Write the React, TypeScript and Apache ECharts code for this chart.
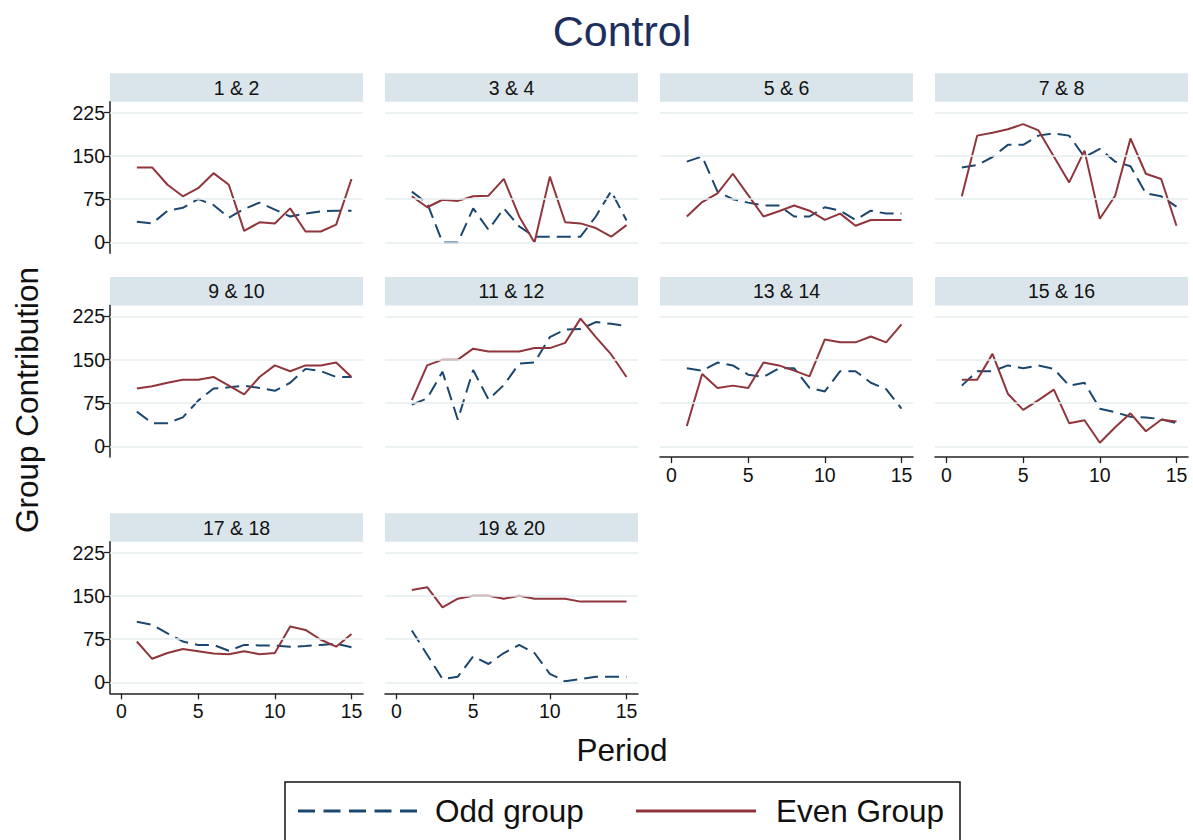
import React, { useEffect, useRef } from 'react';
import * as echarts from 'echarts';

const periods = [1, 2, 3, 4, 5, 6, 7, 8, 9, 10, 11, 12, 13, 14, 15];
const panelTitles = ['1 & 2', '3 & 4', '5 & 6', '7 & 8', '9 & 10', '11 & 12', '13 & 14', '15 & 16', '17 & 18', '19 & 20'];
const yTicks = [0, 75, 150, 225];
const xTicks = [0, 5, 10, 15];

const odd_1_2 = [36, 33, 55, 60, 75, 65, 43, 58, 69, 57, 45, 50, 54, 55, 55];
const even_1_2 = [130, 130, 100, 80, 94, 120, 100, 20, 35, 33, 59, 19, 19, 31, 110];
const odd_3_4 = [88, 68, 0, 0, 59, 22, 59, 28, 10, 10, 10, 10, 45, 89, 38];
const even_3_4 = [80, 61, 74, 72, 80, 81, 110, 45, 0, 114, 35, 33, 25, 10, 30];
const odd_5_6 = [140, 149, 88, 75, 69, 64, 64, 45, 45, 61, 55, 39, 55, 50, 50];
const even_5_6 = [45, 70, 85, 119, 82, 45, 54, 64, 55, 39, 50, 29, 39, 39, 39];
const odd_7_8 = [130, 134, 148, 169, 169, 185, 189, 185, 148, 162, 140, 132, 85, 80, 62];
const even_7_8 = [80, 185, 190, 196, 205, 194, 149, 104, 159, 41, 81, 180, 119, 110, 29];
const odd_9_10 = [60, 40, 40, 50, 79, 100, 102, 105, 101, 96, 110, 134, 130, 120, 120];
const even_9_10 = [100, 104, 110, 115, 115, 120, 105, 90, 120, 140, 130, 140, 140, 145, 120];
const odd_11_12 = [72, 83, 129, 46, 132, 81, 106, 143, 145, 189, 202, 203, 215, 212, 208];
const even_11_12 = [80, 140, 150, 150, 169, 164, 164, 164, 170, 170, 179, 221, 189, 159, 120];
const odd_13_14 = [135, 131, 145, 140, 124, 120, 135, 135, 101, 95, 130, 130, 110, 99, 65];
const even_13_14 = [35, 125, 101, 105, 101, 145, 140, 131, 121, 185, 180, 180, 190, 180, 211];
const odd_15_16 = [105, 130, 130, 140, 135, 140, 134, 105, 110, 65, 59, 51, 50, 47, 40];
const even_15_16 = [115, 115, 160, 91, 63, 80, 98, 40, 45, 6, 33, 57, 26, 46, 43];
const odd_17_18 = [105, 100, 85, 71, 65, 65, 55, 65, 64, 64, 62, 63, 65, 67, 61];
const even_17_18 = [71, 41, 51, 58, 54, 50, 49, 54, 49, 51, 97, 91, 74, 62, 84];
const odd_19_20 = [90, 48, 6, 10, 45, 32, 51, 65, 51, 15, 2, 6, 10, 10, 10];
const even_19_20 = [160, 165, 130, 145, 150, 150, 145, 150, 145, 145, 145, 140, 140, 140, 140];

const oddList = [odd_1_2, odd_3_4, odd_5_6, odd_7_8, odd_9_10, odd_11_12, odd_13_14, odd_15_16, odd_17_18, odd_19_20];
const evenList = [even_1_2, even_3_4, even_5_6, even_7_8, even_9_10, even_11_12, even_13_14, even_15_16, even_17_18, even_19_20];

const FONT = 'Liberation Sans, Arial, Helvetica, sans-serif';
const BLUE = '#1a476f';
const RED = '#90353b';
const GRIDC = '#e6eef1';
const STRIP = '#d9e5eb';

const colLeft = [110, 385, 660, 935];
const rowTop = [101.7, 305.5, 541.7];
const plotW = 253;
const plotH = 151.6;
const stripH = 28.4;

export default function App() {
  const ref = useRef<HTMLDivElement>(null);
  useEffect(() => {
    if (!ref.current) return;
    const chart = echarts.init(ref.current, undefined, { renderer: 'svg' });
    const grids: any[] = [];
    const xAxes: any[] = [];
    const yAxes: any[] = [];
    const series: any[] = [];
    const graphics: any[] = [];
    const center = { align: 'center', verticalAlign: 'middle', textAlign: 'center', textVerticalAlign: 'middle' };
    const leftMid = { align: 'left', verticalAlign: 'middle', textAlign: 'left', textVerticalAlign: 'middle' };
    panelTitles.forEach((title, i) => {
      const row = Math.floor(i / 4);
      const col = i % 4;
      const left = colLeft[col];
      const top = rowTop[row];
      const showY = col === 0;
      const showX = i >= 6;
      grids.push({ left, top, width: plotW, height: plotH, containLabel: false });
      xAxes.push({
        type: 'value', gridIndex: i, min: -0.75, max: 15.75,
        axisLine: { show: showX, onZero: false, lineStyle: { color: '#222', width: 1.5 } },
        axisTick: { show: showX, length: 6, customValues: xTicks, lineStyle: { color: '#222', width: 1.3 } },
        axisLabel: { show: showX, customValues: xTicks, color: '#111', fontSize: 19.5, fontFamily: FONT, margin: 8 },
        splitLine: { show: false },
      });
      yAxes.push({
        type: 'value', gridIndex: i, min: -18.75, max: 243.75,
        axisLine: { show: showY, onZero: false, lineStyle: { color: '#222', width: 1.5 } },
        axisTick: { show: showY, length: 6, customValues: yTicks, lineStyle: { color: '#222', width: 1.3 } },
        axisLabel: { show: showY, customValues: yTicks, color: '#111', fontSize: 19.5, fontFamily: FONT, margin: 5 },
        splitLine: { show: false },
      });
      series.push({
        type: 'line', xAxisIndex: i, yAxisIndex: i, data: [], silent: true,
        markLine: {
          silent: true, symbol: 'none', label: { show: false },
          lineStyle: { color: GRIDC, width: 1.6, type: 'solid' },
          emphasis: { disabled: true },
          data: yTicks.map((v) => ({ yAxis: v })),
        },
      });
      series.push({
        name: 'Odd group', type: 'line', xAxisIndex: i, yAxisIndex: i, showSymbol: false, symbol: 'none',
        data: periods.map((p, k) => [p, oddList[i][k]]),
        lineStyle: { color: BLUE, width: 2, type: [14, 7] }, itemStyle: { color: BLUE },
      });
      series.push({
        name: 'Even Group', type: 'line', xAxisIndex: i, yAxisIndex: i, showSymbol: false, symbol: 'none',
        data: periods.map((p, k) => [p, evenList[i][k]]),
        lineStyle: { color: RED, width: 2, type: 'solid' }, itemStyle: { color: RED },
      });
      graphics.push({
        type: 'rect', shape: { x: left, y: top - stripH, width: plotW, height: stripH },
        style: { fill: STRIP }, silent: true,
      });
      graphics.push({
        type: 'text', x: left + plotW / 2, y: top - stripH / 2,
        style: { text: title, fill: '#111', fontSize: 19.5, fontFamily: FONT, ...center },
        silent: true,
      });
    });
    graphics.push({
      type: 'text', x: 622, y: 31,
      style: { text: 'Control', fill: '#1e2f5e', fontSize: 43, fontFamily: FONT, ...center },
    });
    graphics.push({
      type: 'text', x: 27, y: 400, rotation: Math.PI / 2,
      style: { text: 'Group Contribution', fill: '#111', fontSize: 31.5, fontFamily: FONT, ...center },
    });
    graphics.push({
      type: 'text', x: 622, y: 750,
      style: { text: 'Period', fill: '#111', fontSize: 31.5, fontFamily: FONT, ...center },
    });
    graphics.push({
      type: 'rect', shape: { x: 285, y: 782, width: 675, height: 80 },
      style: { fill: 'none', stroke: '#111', lineWidth: 1.5 },
    });
    graphics.push({
      type: 'line', shape: { x1: 298, y1: 811, x2: 417, y2: 811 },
      style: { stroke: BLUE, lineWidth: 3.2, lineDash: [17, 8.5] },
    });
    graphics.push({
      type: 'line', shape: { x1: 636, y1: 811, x2: 756, y2: 811 },
      style: { stroke: RED, lineWidth: 3.2 },
    });
    graphics.push({
      type: 'text', x: 435, y: 811,
      style: { text: 'Odd group', fill: '#111', fontSize: 31.5, fontFamily: FONT, ...leftMid },
    });
    graphics.push({
      type: 'text', x: 776, y: 811,
      style: { text: 'Even Group', fill: '#111', fontSize: 31.5, fontFamily: FONT, ...leftMid },
    });
    chart.setOption({
      animation: false,
      backgroundColor: '#ffffff',
      grid: grids,
      xAxis: xAxes,
      yAxis: yAxes,
      series,
      graphic: graphics,
    });
    return () => chart.dispose();
  }, []);
  return <div ref={ref} style={{ position: 'fixed', left: 0, top: 0, width: 1193, height: 840 }} />;
}
